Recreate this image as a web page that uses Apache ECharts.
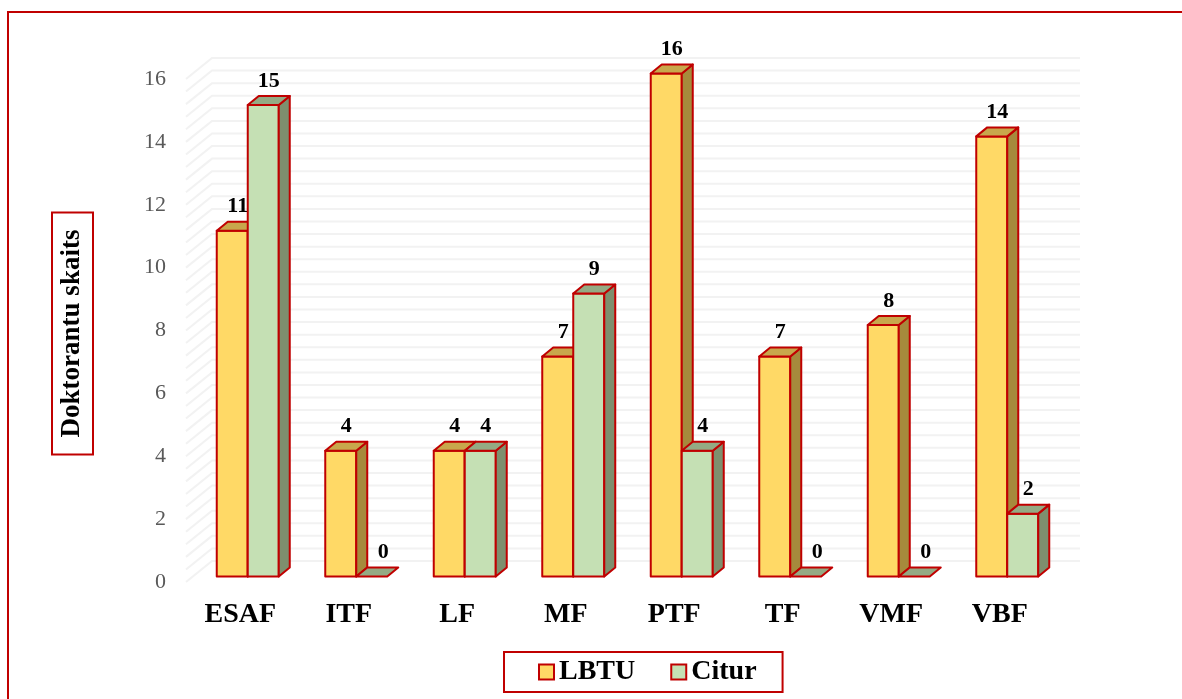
<!DOCTYPE html>
<html>
<head>
<meta charset="utf-8">
<script src="https://cdn.jsdelivr.net/npm/echarts@6/dist/echarts.min.js"></script>
<style>html,body{margin:0;padding:0;background:#fff;}#c{width:1182px;height:699px;}</style>
</head>
<body>
<div id="c"></div>
<script>
var categories = ['ESAF', 'ITF', 'LF', 'MF', 'PTF', 'TF', 'VMF', 'VBF'];
var lbtu = [11, 4, 4, 7, 16, 7, 8, 14];
var citur = [15, 0, 4, 9, 4, 0, 0, 2];
var yTicks = [0, 2, 4, 6, 8, 10, 12, 14, 16];

var SERIF = '"Liberation Serif","Times New Roman",serif';
var RED = '#C00000';
var BW = 31;          // bar front width
var OX = 7.5, OY = -5.5; // bar front offset from front plane
var DX = 11, DY = -9;   // bar depth
var WX = 26, WY = -21;  // wall depth

// minor grid values (decoration lines on back wall)
var gridVals = [];
for (var i = 0; i <= 40; i++) gridVals.push(+(i * 0.4).toFixed(1));

var palettes = [
  { front: '#FFD966', top: '#C8A74C', side: '#A68A3C' },
  { front: '#C5E0B4', top: '#94AA84', side: '#7E8F6E' }
];

function barRender(si) {
  return function (params, api) {
    var ci = api.value(0), v = api.value(1);
    var c = api.coord([ci, v]);
    var b = api.coord([ci, 0]);
    var x0 = si === 0 ? c[0] - BW + OX : c[0] + OX;
    var yt = c[1] + OY, yb = b[1] + OY;
    var p = palettes[si];
    var st = { stroke: RED, lineWidth: 2, lineJoin: 'round' };
    var children = [];
    if (yb - yt > 0.5) {
      children.push({ type: 'rect', shape: { x: x0, y: yt, width: BW, height: yb - yt },
        style: Object.assign({ fill: p.front }, st) });
      children.push({ type: 'polygon', shape: { points: [[x0 + BW, yt], [x0 + BW + DX, yt + DY], [x0 + BW + DX, yb + DY], [x0 + BW, yb]] },
        style: Object.assign({ fill: p.side }, st) });
    }
    children.push({ type: 'polygon', shape: { points: [[x0, yt], [x0 + DX, yt + DY], [x0 + BW + DX, yt + DY], [x0 + BW, yt]] },
      style: Object.assign({ fill: p.top }, st) });
    children.push({ type: 'text', x: x0 + BW / 2 + DX / 2 + (v === 0 ? 6 : 0), y: yt + DY - 15,
      style: { text: String(v), fill: '#000', font: 'bold 22px ' + SERIF, textAlign: 'center', textVerticalAlign: 'middle' } });
    return { type: 'group', children: children };
  };
}

var chart = echarts.init(document.getElementById('c'));
chart.setOption({
  animation: false,
  backgroundColor: '#fff',
  grid: { left: 186, right: 128, top: 79, bottom: 117 },
  xAxis: {
    type: 'category', data: categories,
    axisLine: { show: false }, axisTick: { show: false },
    axisLabel: { color: '#000', fontFamily: SERIF, fontWeight: 'bold', fontSize: 28, margin: 19 }
  },
  yAxis: {
    type: 'value', min: 0, max: 16, interval: 2,
    axisLine: { show: false }, axisTick: { show: false }, splitLine: { show: false },
    axisLabel: { color: '#595959', fontFamily: SERIF, fontSize: 22, margin: 20,
      formatter: function (v) { return yTicks.indexOf(v) >= 0 ? String(v) : ''; } }
  },
  legend: {
    left: 504, top: 652,
    padding: [6, 26, 6, 34],
    borderColor: RED, borderWidth: 2,
    itemWidth: 15, itemHeight: 15, itemGap: 35,
    icon: 'rect',
    textStyle: { color: '#000', fontFamily: SERIF, fontWeight: 'bold', fontSize: 28, lineHeight: 28 },
    data: [
      { name: 'LBTU', itemStyle: { color: '#FFD966', borderColor: RED, borderWidth: 2 } },
      { name: 'Citur', itemStyle: { color: '#C5E0B4', borderColor: RED, borderWidth: 2 } }
    ]
  },
  graphic: [
    { type: 'rect', shape: { x: 8, y: 12, width: 1200, height: 720 }, style: { fill: 'none', stroke: RED, lineWidth: 2 }, silent: true, z: -10 },
    { type: 'text', x: 72.5, y: 333.5, rotation: Math.PI / 2,
      style: { text: 'Doktorantu skaits', font: 'bold 27px ' + SERIF, fill: '#000', textAlign: 'center', textVerticalAlign: 'middle',
        lineHeight: 27, padding: [7, 17, 7, 17], borderColor: RED, borderWidth: 2 } }
  ],
  series: [
    {
      type: 'custom', name: 'wall', z: 1, silent: true,
      data: gridVals.map(function (v) { return [0, v]; }),
      renderItem: function (params, api) {
        var cs = params.coordSys;
        var y = api.coord([0, api.value(1)])[1];
        return { type: 'polyline', shape: { points: [[cs.x, y], [cs.x + WX, y + WY], [cs.x + cs.width + WX, y + WY]] },
          style: { stroke: '#f2f2f2', lineWidth: 2, fill: 'none' } };
      }
    },
    {
      type: 'custom', name: 'LBTU', z: 3,
      itemStyle: { color: '#FFD966' },
      data: lbtu.map(function (v, i) { return [i, v]; }),
      renderItem: barRender(0)
    },
    {
      type: 'custom', name: 'Citur', z: 4,
      itemStyle: { color: '#C5E0B4' },
      data: citur.map(function (v, i) { return [i, v]; }),
      renderItem: barRender(1)
    }
  ]
});
</script>
</body>
</html>
